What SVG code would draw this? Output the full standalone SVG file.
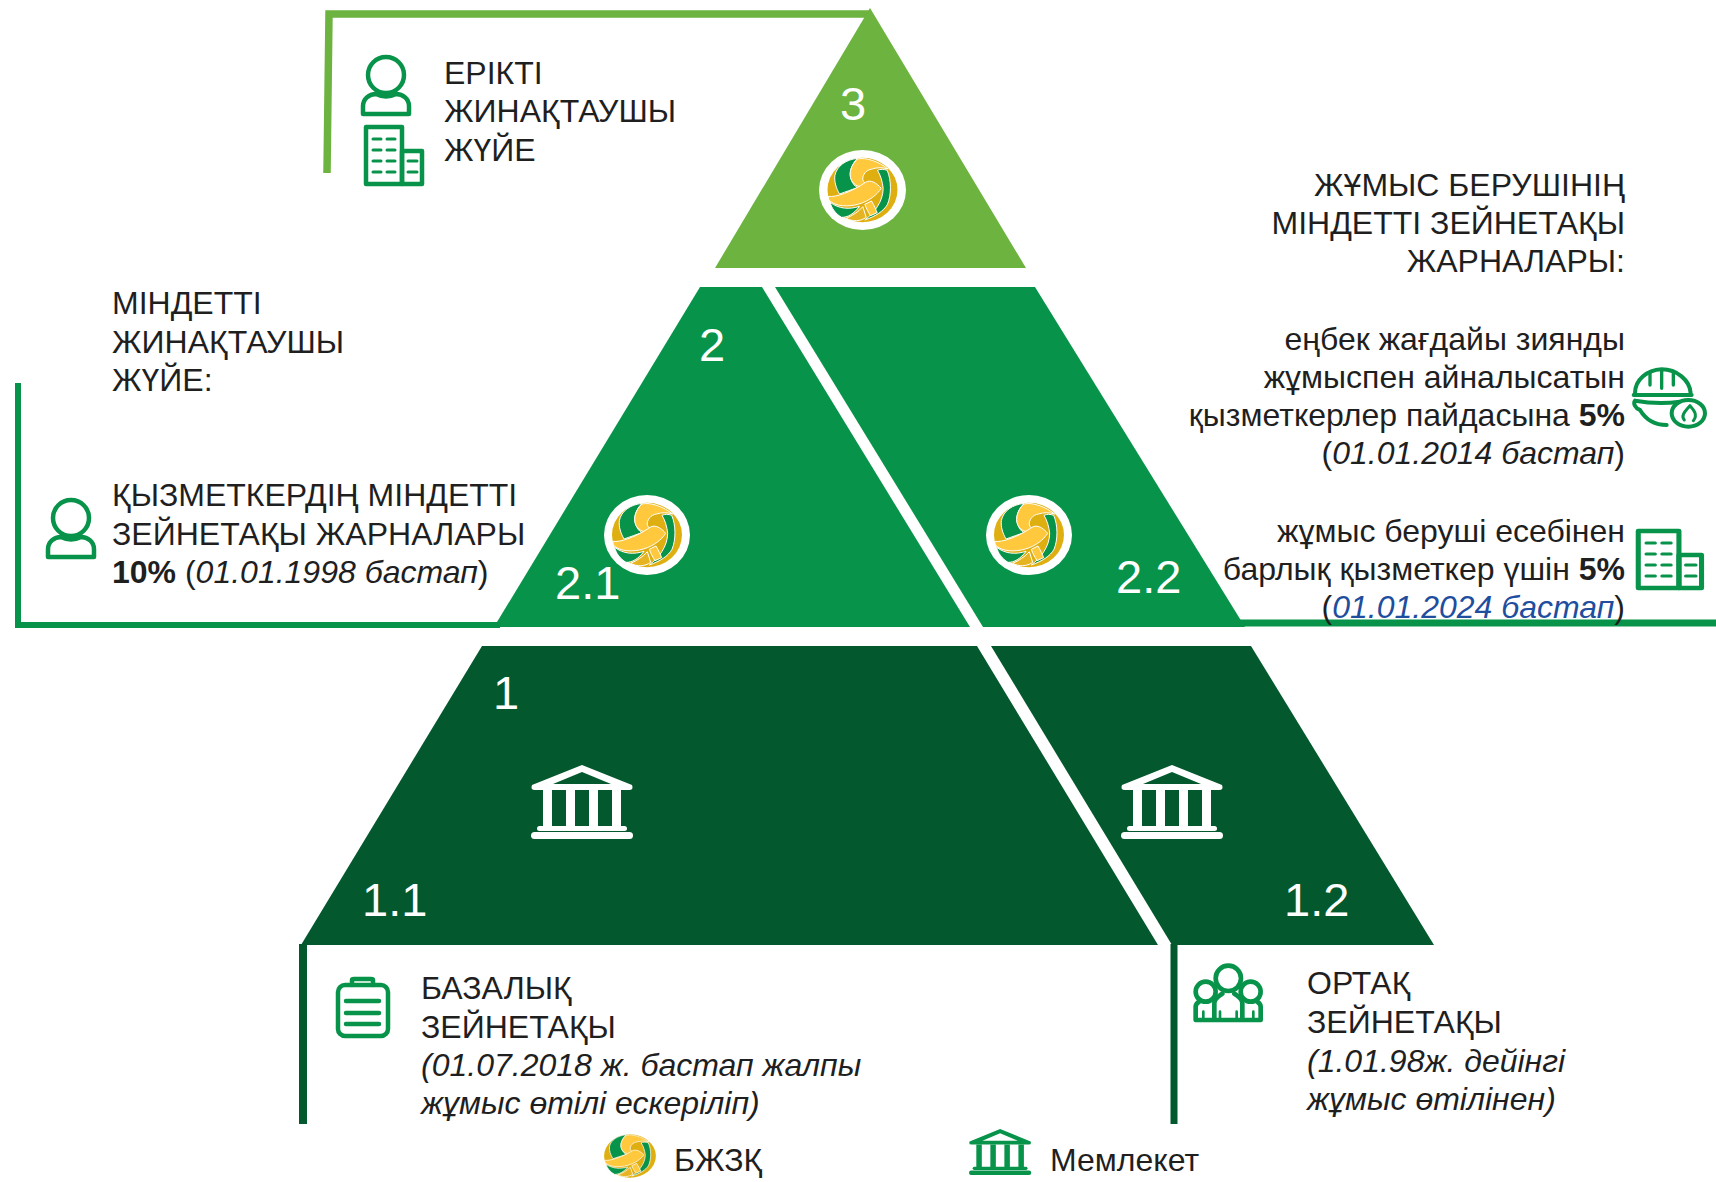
<svg xmlns="http://www.w3.org/2000/svg" width="1716" height="1182" viewBox="0 0 1716 1182">
<style>
text{font-family:"Liberation Sans",Arial,sans-serif;font-size:32px;fill:#1f1f1f}
.e{text-anchor:end}
.n{fill:#fff;font-size:47px}
.i{font-style:italic}
.b{font-weight:bold}
.ic{fill:none;stroke:#08934a;stroke-width:4.500;stroke-linejoin:round;stroke-linecap:round}
.g{fill:#08934a}
</style>
<defs>
<g id="ball" transform="translate(-47 -45) scale(.3333)">
<g stroke="#fff" stroke-width="3" stroke-linejoin="round">
<ellipse cx="141" cy="135" rx="105" ry="97" fill="#dfae10" stroke="none"/>
<path d="M58 92C64 62 92 44 126 40C108 58 98 85 108 106C112 116 118 124 126 128C108 134 92 140 72 147C62 130 56 110 58 92Z" fill="#08934a"/>
<path d="M186 76C195 72 205 72 215 76C228 105 228 150 216 178C205 198 180 214 148 225C175 205 203 170 203 130C201 110 195 90 186 76Z" fill="#08934a"/>
<path d="M126 42C152 36 190 50 218 72C200 67 185 67 170 72C152 74 140 90 142 105C146 113 150 117 155 116L150 122C136 130 116 122 108 106C98 85 108 58 126 42Z" fill="#ffc83d"/>
<path d="M38 154C60 158 110 140 150 112C165 102 185 115 197 130C186 148 162 168 130 177C100 186 60 186 40 165Z" fill="#ffc83d"/>
<path d="M44 172C70 192 102 194 132 184C116 206 96 218 78 217C60 206 48 190 44 172Z" fill="#08934a"/>
<path d="M92 220C110 212 130 200 142 185L152 217C135 230 110 230 92 220Z" fill="#e6b422"/>
<path d="M148 178L168 168C175 180 182 195 185 203L165 212C158 200 152 190 148 178Z" fill="#ffc83d"/>
</g>
</g>
<g id="bank">
<path d="M51 0L101 20Q103 25 98 25H4Q-1 25 1 20ZM51 7L22 19H80Z" fill-rule="evenodd"/>
<rect x="12" y="25" width="9" height="38"/><rect x="35" y="25" width="9" height="38"/><rect x="58" y="25" width="9" height="38"/><rect x="81" y="25" width="9" height="38"/>
<rect x="6" y="61" width="90" height="5" rx="2.500"/>
<rect x="0" y="67" width="102" height="7" rx="3.500"/>
</g>
<g id="person">
<ellipse cx="25" cy="20" rx="18" ry="18"/>
<path d="M2 59V51C2 44 8 39 15 39Q25 44 35 39C42 39 48 44 48 51V59Z"/>
</g>
<g id="bld">
<rect x="2" y="2" width="36" height="57"/>
<rect x="38" y="26" width="20" height="33"/>
<path d="M9 14H17M23 14H31M9 25H17M23 25H31M9 36H17M23 36H31M9 47H17M23 47H31M44 36H53M44 47H53" stroke-width="3"/>
</g>
</defs>

<g id="connectors" fill="none">
<path d="M327 173L329 14H870" stroke="#6cb33f" stroke-width="7.500"/>
<path d="M18 383V625H500" stroke="#08934a" stroke-width="6"/>
<path d="M1180 623H1716" stroke="#08934a" stroke-width="7"/>
<path d="M303 944V1124" stroke="#03582d" stroke-width="8"/>
<path d="M1174 944V1124" stroke="#03582d" stroke-width="7"/>
</g>

<g id="tier-3">
<path d="M870 8L1026 268H715Z" fill="#6cb33f"/>
<text class="n" x="840" y="120">3</text>
<ellipse cx="862.500" cy="190" rx="43.500" ry="40" fill="#fff"/>
<use href="#ball" transform="translate(862.500 190)"/>
</g>
<g id="tier-2-1">
<path d="M700 287H762L970 627H494Z" fill="#08934a"/>
<text class="n" x="699" y="361">2</text>
<text class="n" x="555" y="599">2.1</text>
<ellipse cx="647" cy="535" rx="43" ry="40" fill="#fff"/>
<use href="#ball" transform="translate(647 535)"/>
</g>
<g id="tier-2-2">
<path d="M775 287H1035L1245 627H983Z" fill="#08934a"/>
<text class="n" x="1116" y="593">2.2</text>
<ellipse cx="1029" cy="535" rx="43" ry="40" fill="#fff"/>
<use href="#ball" transform="translate(1029 535)"/>
</g>
<g id="tier-1-1">
<path d="M482 646H977L1158 945H301Z" fill="#03582d"/>
<text class="n" x="493" y="709">1</text>
<text class="n" x="362" y="916">1.1</text>
<use href="#bank" x="531" y="765" fill="#fff"/>
</g>
<g id="tier-1-2">
<path d="M991 646H1251L1434 945H1172Z" fill="#03582d"/>
<text class="n" x="1284" y="916">1.2</text>
<use href="#bank" x="1121" y="765" fill="#fff"/>
</g>

<g id="voluntary">
<use href="#person" class="ic" x="361" y="55"/>
<use href="#bld" class="ic" x="364" y="125"/>
<text x="444" y="84">ЕРІКТІ</text>
<text x="444" y="122">ЖИНАҚТАУШЫ</text>
<text x="444" y="161">ЖҮЙЕ</text>
</g>
<g id="mandatory">
<text x="112" y="314">МІНДЕТТІ</text>
<text x="112" y="353">ЖИНАҚТАУШЫ</text>
<text x="112" y="391">ЖҮЙЕ:</text>
<use href="#person" class="ic" x="46" y="498"/>
<text x="112" y="506">ҚЫЗМЕТКЕРДІҢ МІНДЕТТІ</text>
<text x="112" y="545">ЗЕЙНЕТАҚЫ ЖАРНАЛАРЫ</text>
<text x="112" y="583"><tspan class="b">10%</tspan> (<tspan class="i">01.01.1998 бастап</tspan>)</text>
</g>
<g id="employer">
<text class="e" x="1625" y="196">ЖҰМЫС БЕРУШІНІҢ</text>
<text class="e" x="1625" y="234">МІНДЕТТІ ЗЕЙНЕТАҚЫ</text>
<text class="e" x="1625" y="272">ЖАРНАЛАРЫ:</text>
<text class="e" x="1625" y="350">еңбек жағдайы зиянды</text>
<text class="e" x="1625" y="388">жұмыспен айналысатын</text>
<text class="e" x="1625" y="426">қызметкерлер пайдасына <tspan class="b">5%</tspan></text>
<text class="e" x="1625" y="464">(<tspan class="i">01.01.2014 бастап</tspan>)</text>
<text class="e" x="1625" y="542">жұмыс беруші есебінен</text>
<text class="e" x="1625" y="580">барлық қызметкер үшін <tspan class="b">5%</tspan></text>
<text class="e" x="1625" y="618">(<tspan class="i" style="fill:#1f4e9e">01.01.2024 бастап</tspan>)</text>
<g id="helmet" class="ic" transform="translate(1625 360) scale(.3333)" style="stroke-width:12">
<path d="M30 100C30 60 65 30 110 28C155 28 195 60 197 100M26 105H200"/>
<path d="M75 38V75M110 30V85M145 38V75" style="stroke-width:10"/>
<path d="M30 122Q100 135 165 125M30 122C24 130 30 145 45 150C60 175 85 195 125 195"/>
<ellipse cx="190" cy="160" rx="50" ry="40" fill="#fff"/>
<path d="M178 180C165 165 185 150 195 137C205 148 220 165 205 182" style="stroke-width:9"/>
</g>
<use href="#bld" class="ic" transform="translate(1636 529) scale(1.130 1)"/>
</g>
<g id="basic">
<g class="ic">
<rect x="338" y="985" width="50" height="51" rx="7"/>
<path d="M352 985V980Q352 979 354 979H371Q373 979 373 980V985M346 1001H379M346 1013H379M346 1024H379"/>
</g>
<text x="421" y="999">БАЗАЛЫҚ</text>
<text x="421" y="1038">ЗЕЙНЕТАҚЫ</text>
<text class="i" x="421" y="1076">(01.07.2018 ж. бастап жалпы</text>
<text class="i" x="421" y="1114">жұмыс өтілі ескеріліп)</text>
</g>
<g id="shared">
<g class="ic" transform="translate(1185 955) scale(.3333)" style="stroke-width:14">
<circle cx="130" cy="70" r="38"/>
<path d="M88 192V145C88 130 100 125 112 116M172 192V145C172 130 160 125 148 116"/>
<circle cx="62" cy="110" r="30"/><circle cx="197" cy="110" r="30"/>
<path d="M32 195V155C32 145 40 142 45 138M227 195V155C227 145 219 142 214 138M32 195H227"/>
<path d="M55 170V190M105 170V190M155 170V190M205 170V190" style="stroke-width:8"/>
</g>
<text x="1307" y="994">ОРТАҚ</text>
<text x="1307" y="1033">ЗЕЙНЕТАҚЫ</text>
<text class="i" x="1307" y="1072">(1.01.98ж. дейінгі</text>
<text class="i" x="1307" y="1110">жұмыс өтілінен)</text>
</g>
<g id="legend">
<use href="#ball" transform="translate(630 1156) scale(.74 .67)"/>
<text x="674" y="1171">БЖЗҚ</text>
<use href="#bank" class="g" transform="translate(969 1129) scale(.61 .62)"/>
<text x="1050" y="1171">Мемлекет</text>
</g>
</svg>
